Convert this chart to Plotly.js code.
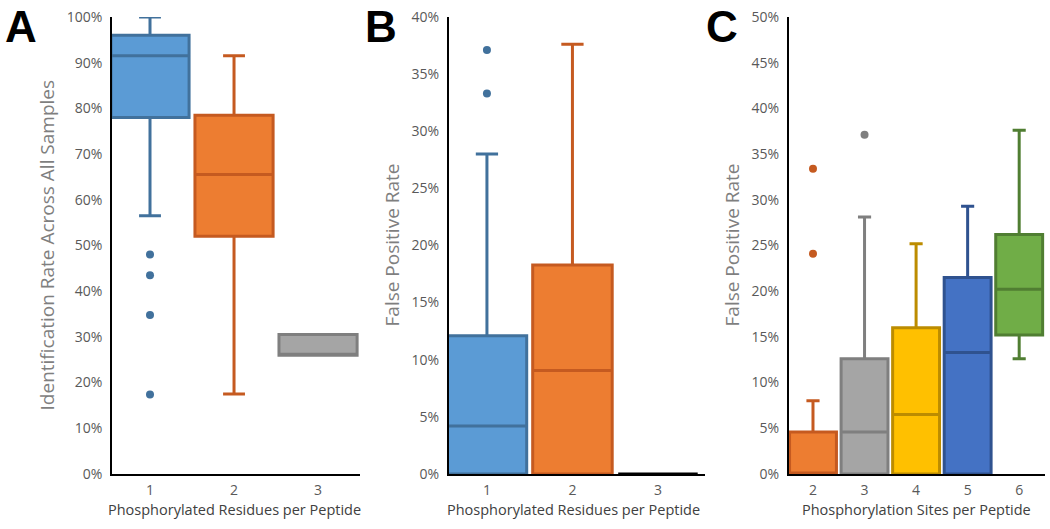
<!DOCTYPE html>
<html>
<head>
<meta charset="utf-8">
<script src="https://cdn.plot.ly/plotly-3.0.1.min.js"></script>
<style>
  html, body { margin: 0; padding: 0; background: #fff; }
  #plot { width: 1050px; height: 529px; }
</style>
</head>
<body>
<div id="plot"></div>
<script>
// Panel A: identification rate by phosphorylated residues per peptide
const aCats = [1, 2, 3];
const aQ1 = [0.78, 0.52, 0.26];
const aMedian = [0.915, 0.655, 0.26];
const aQ3 = [0.96, 0.785, 0.305];
const aLow = [0.565, 0.175, 0.26];
const aHigh = [1.0, 0.915, 0.305];
const aOutX = [1, 1, 1, 1];
const aOutY = [0.48, 0.435, 0.348, 0.174];

// Panel B: false positive rate by phosphorylated residues per peptide
const bCats = [1, 2, 3];
const bQ1 = [0, 0, 0];
const bMedian = [0.042, 0.0905, 0];
const bQ3 = [0.121, 0.183, 0];
const bLow = [0, 0, 0];
const bHigh = [0.28, 0.376, 0];
const bOutX = [1, 1];
const bOutY = [0.371, 0.333];

// Panel C: false positive rate by phosphorylation sites per peptide
const cCats = [2, 3, 4, 5, 6];
const cQ1 = [0, 0, 0, 0, 0.152];
const cMedian = [0, 0.046, 0.065, 0.133, 0.202];
const cQ3 = [0.046, 0.126, 0.16, 0.215, 0.262];
const cLow = [0, 0, 0, 0, 0.126];
const cHigh = [0.08, 0.281, 0.252, 0.293, 0.376];
const cOutX = [2, 2, 3];
const cOutY = [0.334, 0.241, 0.371];

const fills = { blue: '#5B9BD5', orange: '#ED7D31', gray: '#A5A5A5', yellow: '#FFC000', navy: '#4472C4', green: '#70AD47', flat: '#000' };
const edges = { blue: '#41719C', orange: '#C55A20', gray: '#7F7F7F', yellow: '#BC8C00', navy: '#2F528F', green: '#507E32', flat: '#000' };

const aColors = ['blue', 'orange', 'gray'];
const bColors = ['blue', 'orange', 'flat'];
const cColors = ['orange', 'gray', 'yellow', 'navy', 'green'];

function boxTraces(cats, q1, med, q3, lo, hi, colors, width, xa, ya) {
    return cats.map((c, i) => ({
        type: 'box',
        x: [c],
        q1: [q1[i]],
        median: [med[i]],
        q3: [q3[i]],
        lowerfence: [lo[i]],
        upperfence: [hi[i]],
        width: width,
        whiskerwidth: 0.28,
        fillcolor: fills[colors[i]],
        line: { color: edges[colors[i]], width: 3 },
        xaxis: xa,
        yaxis: ya,
        showlegend: false,
        hoverinfo: 'skip'
    }));
}

function outlierTrace(xs, ys, color, xa, ya) {
    return {
        type: 'scatter',
        mode: 'markers',
        x: xs,
        y: ys,
        marker: { color: color, size: 8 },
        xaxis: xa,
        yaxis: ya,
        showlegend: false,
        hoverinfo: 'skip'
    };
}

const traces = [
    ...boxTraces(aCats, aQ1, aMedian, aQ3, aLow, aHigh, aColors, 0.93, 'x', 'y'),
    outlierTrace(aOutX, aOutY, edges.blue, 'x', 'y'),
    ...boxTraces(bCats, bQ1, bMedian, bQ3, bLow, bHigh, bColors, 0.93, 'x2', 'y2'),
    outlierTrace(bOutX, bOutY, edges.blue, 'x2', 'y2'),
    ...boxTraces(cCats, cQ1, cMedian, cQ3, cLow, cHigh, cColors, 0.91, 'x3', 'y3'),
    outlierTrace(cOutX.slice(0, 2), cOutY.slice(0, 2), edges.orange, 'x3', 'y3'),
    outlierTrace(cOutX.slice(2), cOutY.slice(2), edges.gray, 'x3', 'y3')
];

const font = 'Open Sans, Segoe UI, Liberation Sans, sans-serif';
const tickFont = { family: font, size: 14, color: '#595959' };
const xTitleFont = { family: font, size: 14.5, color: '#404040' };
const yTitleFont = { family: font, size: 19, color: '#7F7F7F' };
const yDomain = [0.104, 0.968];

function xAxis(domain, range, vals, anchor) {
    return {
        domain: domain,
        range: range,
        anchor: anchor,
        tickvals: vals,
        ticktext: vals.map(String),
        ticks: '',
        showgrid: false,
        zeroline: false,
        showline: true,
        linecolor: '#000',
        linewidth: 2,
        tickfont: tickFont,
        ticklabelstandoff: 2,
        fixedrange: true
    };
}

function yAxis(range, dtick, anchor) {
    return {
        domain: yDomain,
        range: range,
        anchor: anchor,
        dtick: dtick,
        tickformat: '.0%',
        ticks: '',
        showgrid: false,
        zeroline: false,
        showline: true,
        linecolor: '#000',
        linewidth: 2,
        tickfont: tickFont,
        ticklabelstandoff: 5,
        fixedrange: true
    };
}

// axis titles placed as annotations so they sit where the reference has them
function yTitle(text, x) {
    return { text: text, x: x, y: 0.536, xref: 'paper', yref: 'paper', xanchor: 'center', yanchor: 'middle', textangle: -90, showarrow: false, font: yTitleFont };
}

function xTitle(text, x) {
    return { text: text, x: x, y: 0.036, xref: 'paper', yref: 'paper', xanchor: 'center', yanchor: 'middle', showarrow: false, font: xTitleFont };
}

function letter(text, x) {
    return { text: '<b>' + text + '</b>', x: x, y: 1.0, xref: 'paper', yref: 'paper', xanchor: 'left', yanchor: 'top', showarrow: false, font: { family: 'Liberation Sans, Arial', size: 44, color: '#000' } };
}

const layout = {
    width: 1050,
    height: 529,
    margin: { l: 0, r: 0, t: 0, b: 0 },
    paper_bgcolor: '#fff',
    plot_bgcolor: '#fff',
    boxmode: 'overlay',
    xaxis: xAxis([0.1067, 0.3429], [0.548, 3.5], aCats, 'y'),
    yaxis: yAxis([0, 1], 0.1, 'x'),
    xaxis2: xAxis([0.4276, 0.6714], [0.556, 3.55], bCats, 'y2'),
    yaxis2: yAxis([0, 0.4], 0.05, 'x2'),
    xaxis3: xAxis([0.7514, 0.9952], [1.534, 6.5], cCats, 'y3'),
    yaxis3: yAxis([0, 0.5], 0.05, 'x3'),
    annotations: [
        yTitle('Identification Rate Across All Samples', 47 / 1050),
        yTitle('False Positive Rate', 392 / 1050),
        yTitle('False Positive Rate', 732 / 1050),
        xTitle('Phosphorylated Residues per Peptide', 234 / 1050),
        xTitle('Phosphorylated Residues per Peptide', 573 / 1050),
        xTitle('Phosphorylation Sites per Peptide', 916 / 1050),
        letter('A', 0.003),
        letter('B', 0.346),
        letter('C', 0.670)
    ]
};

Plotly.newPlot('plot', traces, layout, { displayModeBar: false, staticPlot: true });
</script>
</body>
</html>
